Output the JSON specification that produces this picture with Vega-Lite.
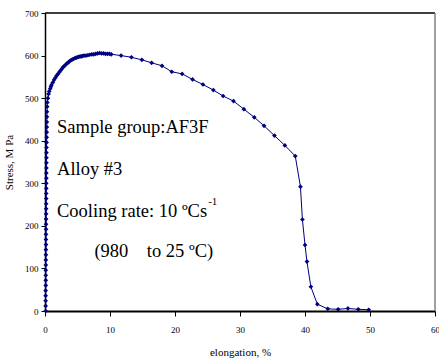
{
  "$schema": "https://vega.github.io/schema/vega-lite/v6.json",
  "autosize": "none",
  "width": 390,
  "height": 298,
  "padding": {"left": 45, "top": 13, "right": 4, "bottom": 49},
  "background": "white",
  "config": {
    "view": {"stroke": null},
    "font": "Liberation Serif",
    "axis": {"labelFont": "Liberation Serif", "titleFont": "Liberation Serif", "titleFontWeight": "normal", "labelColor": "#000", "titleColor": "#000", "domainColor": "#000", "tickColor": "#000", "grid": false},
    "style": {"guide-title": {"fontWeight": "normal", "font": "Liberation Serif"}, "guide-label": {"font": "Liberation Serif"}}
  },
  "datasets": {
    "curve": [
      {"e": 0.1, "s": 0}, {"e": 0.1, "s": 12}, {"e": 0.1, "s": 24}, {"e": 0.1, "s": 36}, {"e": 0.1, "s": 48},
      {"e": 0.12, "s": 60}, {"e": 0.12, "s": 72}, {"e": 0.12, "s": 84}, {"e": 0.12, "s": 96}, {"e": 0.13, "s": 108},
      {"e": 0.13, "s": 120}, {"e": 0.14, "s": 132}, {"e": 0.14, "s": 144}, {"e": 0.15, "s": 156}, {"e": 0.15, "s": 168},
      {"e": 0.15, "s": 180}, {"e": 0.16, "s": 192}, {"e": 0.16, "s": 204}, {"e": 0.17, "s": 216}, {"e": 0.17, "s": 228},
      {"e": 0.18, "s": 240}, {"e": 0.18, "s": 252}, {"e": 0.19, "s": 264}, {"e": 0.19, "s": 276}, {"e": 0.2, "s": 288},
      {"e": 0.2, "s": 300}, {"e": 0.21, "s": 312}, {"e": 0.21, "s": 324}, {"e": 0.22, "s": 336}, {"e": 0.22, "s": 348},
      {"e": 0.23, "s": 360}, {"e": 0.23, "s": 372}, {"e": 0.24, "s": 384}, {"e": 0.25, "s": 396}, {"e": 0.26, "s": 408},
      {"e": 0.27, "s": 420}, {"e": 0.28, "s": 432}, {"e": 0.29, "s": 444}, {"e": 0.3, "s": 456}, {"e": 0.31, "s": 468},
      {"e": 0.33, "s": 480}, {"e": 0.36, "s": 490}, {"e": 0.45, "s": 500}, {"e": 0.55, "s": 510}, {"e": 0.65, "s": 516},
      {"e": 0.8, "s": 522}, {"e": 0.9, "s": 527}, {"e": 1.0, "s": 531}, {"e": 1.2, "s": 537}, {"e": 1.4, "s": 543},
      {"e": 1.6, "s": 548}, {"e": 1.8, "s": 553}, {"e": 2.0, "s": 557}, {"e": 2.2, "s": 561}, {"e": 2.4, "s": 565},
      {"e": 2.6, "s": 569}, {"e": 2.8, "s": 573}, {"e": 3.0, "s": 576}, {"e": 3.2, "s": 579}, {"e": 3.4, "s": 582},
      {"e": 3.6, "s": 584}, {"e": 3.8, "s": 587}, {"e": 4.0, "s": 589}, {"e": 4.2, "s": 591}, {"e": 4.4, "s": 592},
      {"e": 4.6, "s": 594}, {"e": 4.8, "s": 595}, {"e": 5.0, "s": 596}, {"e": 5.2, "s": 597}, {"e": 5.4, "s": 598},
      {"e": 5.6, "s": 598}, {"e": 5.8, "s": 599}, {"e": 6.0, "s": 600}, {"e": 6.3, "s": 600}, {"e": 6.6, "s": 601},
      {"e": 6.9, "s": 602}, {"e": 7.2, "s": 603}, {"e": 7.5, "s": 603}, {"e": 7.8, "s": 604}, {"e": 8.1, "s": 605},
      {"e": 8.4, "s": 606}, {"e": 8.7, "s": 605}, {"e": 9.0, "s": 605}, {"e": 9.3, "s": 604}, {"e": 9.6, "s": 604},
      {"e": 9.9, "s": 604}, {"e": 10.2, "s": 603}, {"e": 11.7, "s": 600}, {"e": 13.3, "s": 596}, {"e": 14.9, "s": 590},
      {"e": 16.4, "s": 583}, {"e": 18.0, "s": 576}, {"e": 19.5, "s": 562}, {"e": 21.1, "s": 557}, {"e": 22.7, "s": 544},
      {"e": 24.3, "s": 532}, {"e": 25.9, "s": 519}, {"e": 27.4, "s": 505}, {"e": 29.0, "s": 493}, {"e": 30.6, "s": 474},
      {"e": 32.2, "s": 455}, {"e": 33.7, "s": 435}, {"e": 35.3, "s": 412}, {"e": 36.9, "s": 389}, {"e": 38.5, "s": 364},
      {"e": 39.3, "s": 292}, {"e": 39.6, "s": 215}, {"e": 40.0, "s": 155}, {"e": 40.3, "s": 116}, {"e": 40.9, "s": 57},
      {"e": 41.9, "s": 16}, {"e": 43.5, "s": 5}, {"e": 45.1, "s": 4}, {"e": 46.6, "s": 6}, {"e": 48.2, "s": 4},
      {"e": 49.8, "s": 3}
    ],
    "labels": [
      {"e": 1.85, "s": 418, "t": "Sample group:AF3F", "size": 18.5},
      {"e": 1.85, "s": 319, "t": "Alloy #3", "size": 18.5},
      {"e": 1.85, "s": 221, "t": "Cooling rate: 10 ºCs", "size": 18.5},
      {"e": 7.6, "s": 126, "t": "(980\u00a0\u00a0\u00a0\u00a0to 25 ºC)", "size": 18.5}
    ],
    "sup": [
      {"e": 25.1, "s": 249, "t": "-1"}
    ]
  },
  "layer": [
    {
      "data": {"name": "curve"},
      "mark": {"type": "line", "color": "#000080", "strokeWidth": 1, "clip": true},
      "encoding": {
        "x": {"field": "e", "type": "quantitative", "scale": {"domain": [0, 60], "nice": false, "zero": true},
          "axis": {"values": [0, 10, 20, 30, 40, 50, 60], "title": "elongation, %", "titleFont": "Liberation Serif", "titleFontWeight": "normal", "labelFont": "Liberation Serif", "titleFontSize": 11, "labelFontSize": 9, "tickSize": 5, "domainWidth": 2, "labelPadding": 9, "titlePadding": 12, "labelFlush": false}},
        "y": {"field": "s", "type": "quantitative", "scale": {"domain": [0, 700], "nice": false},
          "axis": {"values": [0, 100, 200, 300, 400, 500, 600, 700], "title": "Stress, M Pa", "titleFont": "Liberation Serif", "titleFontWeight": "normal", "labelFont": "Liberation Serif", "titleFontSize": 11, "labelFontSize": 9, "tickSize": 4, "domainWidth": 1.5, "labelPadding": 3, "titlePadding": 10, "labelFlush": false}}
      }
    },
    {
      "data": {"name": "curve"},
      "mark": {"type": "point", "shape": "diamond", "filled": true, "color": "#000080", "size": 22, "opacity": 1},
      "encoding": {
        "x": {"field": "e", "type": "quantitative"},
        "y": {"field": "s", "type": "quantitative"}
      }
    },
    {
      "data": {"values": [{"v": 700}]},
      "mark": {"type": "rule", "color": "#000", "strokeWidth": 1.5},
      "encoding": {"y": {"field": "v", "type": "quantitative"}}
    },
    {
      "data": {"values": [{"v": 60}]},
      "mark": {"type": "rule", "color": "#808080", "strokeWidth": 1.5},
      "encoding": {"x": {"field": "v", "type": "quantitative"}}
    },
    {
      "data": {"name": "labels"},
      "mark": {"type": "text", "align": "left", "baseline": "alphabetic", "font": "Liberation Serif", "color": "#000"},
      "encoding": {
        "x": {"field": "e", "type": "quantitative"},
        "y": {"field": "s", "type": "quantitative"},
        "text": {"field": "t"},
        "size": {"field": "size", "type": "quantitative", "scale": null}
      }
    },
    {
      "data": {"name": "sup"},
      "mark": {"type": "text", "align": "left", "baseline": "alphabetic", "font": "Liberation Serif", "fontSize": 11, "color": "#000"},
      "encoding": {
        "x": {"field": "e", "type": "quantitative"},
        "y": {"field": "s", "type": "quantitative"},
        "text": {"field": "t"}
      }
    }
  ]
}
